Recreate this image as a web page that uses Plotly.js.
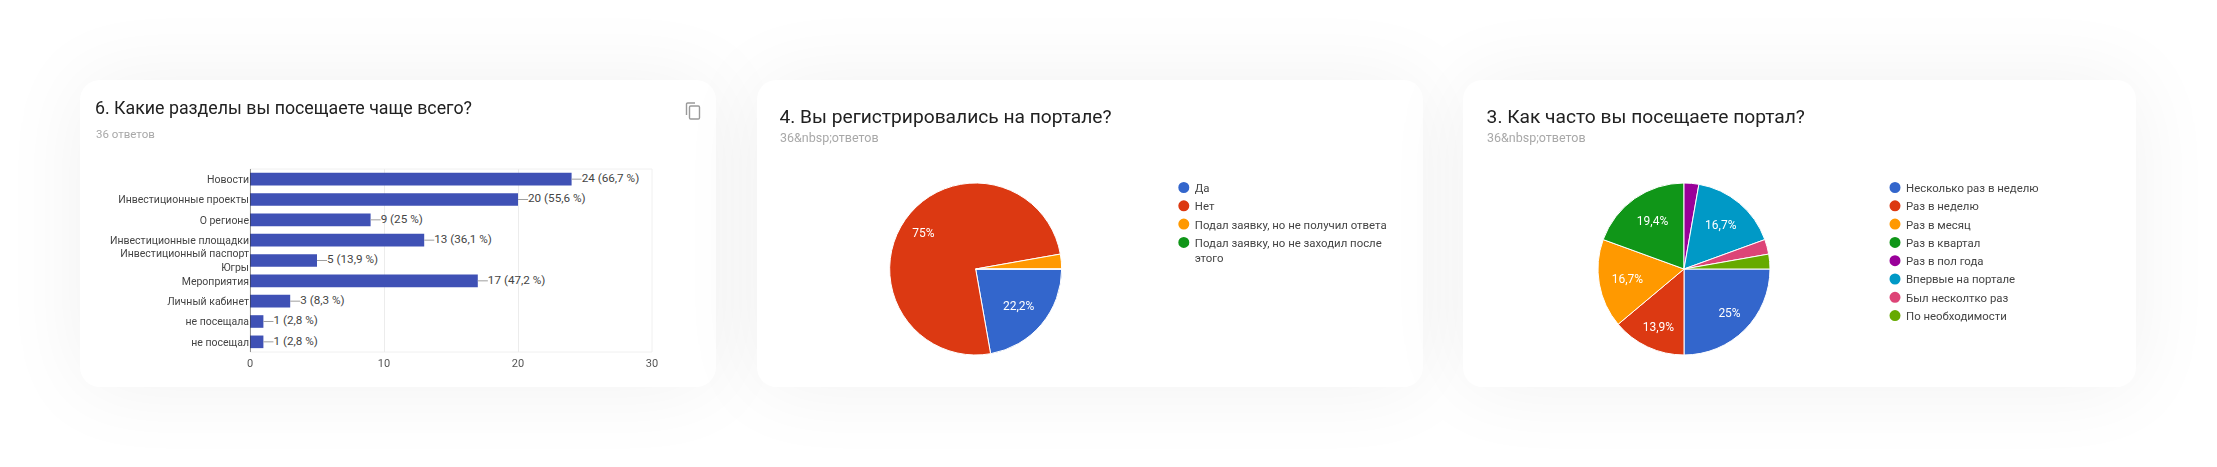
<!DOCTYPE html>
<html><head><meta charset="utf-8">
<script src="https://cdn.plot.ly/plotly-3.0.1.min.js"></script>
<style>
html,body{margin:0;padding:0;background:#fff;width:2217px;height:467px;overflow:hidden}
.card{position:absolute;background:#fff;border-radius:20px;box-shadow:0 0 85px rgba(0,0,0,.06);}
.card>div{position:absolute;left:0;top:0;filter:blur(.5px)}
#icon{position:absolute;left:605px;top:22px;filter:blur(.5px)}
</style></head><body>
<div class="card" style="left:80px;top:80px;width:636px;height:307px"><div id="c1"></div>
<svg id="icon" width="16" height="18" viewBox="0 0 16 18" fill="none" stroke="#9a9a9a" stroke-width="1.4"><path d="M1.5 13V2.2C1.5 1.5 2 1 2.7 1H10"/><rect x="4.5" y="4" width="10" height="13" rx="1.2"/></svg>
</div>
<div class="card" style="left:756.5px;top:80px;width:666.5px;height:307px"><div id="c2"></div></div>
<div class="card" style="left:1463px;top:80px;width:673px;height:307px"><div id="c3"></div></div>
<script>
const barTitle = "6. Какие разделы вы посещаете чаще всего?";
const barSubtitle = "36 ответов";
const barCategories = ["Новости","Инвестиционные проекты","О регионе","Инвестиционные площадки","Инвестиционный паспорт<br>Югры","Мероприятия","Личный кабинет","не посещала","не посещал"];
const barValues = [24,20,9,13,5,17,3,1,1];
const barLabels = ["24 (66,7 %)","20 (55,6 %)","9 (25 %)","13 (36,1 %)","5 (13,9 %)","17 (47,2 %)","3 (8,3 %)","1 (2,8 %)","1 (2,8 %)"];
const leaderLength = 0.75;

const pieColors = ["#3366cc","#dc3912","#ff9900","#109618","#990099","#0099c6","#dd4477","#66aa00"];

const regTitle = "4. Вы регистрировались на портале?";
const regSubtitle = "36&amp;nbsp;ответов";
const regLabels = ["Да","Нет","Подал заявку, но не получил ответа","Подал заявку, но не заходил после<br>этого"];
const regValues = [8,27,1,0];
const regText = ["22,2%","75%","",""];
const regNudge = {"75%":[-17,-11],"22,2%":[3,3]};

const freqTitle = "3. Как часто вы посещаете портал?";
const freqSubtitle = "36&amp;nbsp;ответов";
const freqLabels = ["Несколько раз в неделю","Раз в неделю","Раз в месяц","Раз в квартал","Раз в пол года","Впервые на портале","Был несколтко раз","По необходимости"];
const freqValues = [9,5,6,7,1,6,1,1];
const freqText = ["25%","13,9%","16,7%","19,4%","","16,7%","",""];
const freqNudge = {"25%":[10,8],"13,9%":[0,3],"19,4%":[0,-3]};

const FONT = "Roboto, Arial, sans-serif";
const config = {staticPlot:true, displayModeBar:false};

function header(W,H,title,size,sub,subSize,x,ty,sy){
  return {
    title:{text:title,x:x/W,xref:'container',xanchor:'left',y:1-ty/H,yref:'container',yanchor:'middle',
           font:{family:FONT,size:size,color:'#212121'},pad:{t:0,b:0,l:0,r:0}},
    annotations:[{text:sub,xref:'paper',yref:'paper',x:x/W,y:1-sy/H,xanchor:'left',yanchor:'middle',showarrow:false,
           font:{family:FONT,size:subSize,color:'#a8a8a8'}}]
  };
}

/* bar chart */
(function(){
  const W=636,H=307;
  const h=header(W,H,barTitle,17.8,barSubtitle,11.5,15,28,54);
  const L=170,R=572,T=89,B=272;
  h.annotations[0].x=(14-L)/(R-L);
  h.annotations[0].y=(B-54)/(B-T);
  Plotly.newPlot('c1',[
    {type:'bar',orientation:'h',y:barCategories,x:barValues,width:0.62,
     marker:{color:'#3f51b5',line:{width:0}},
     error_x:{type:'constant',value:leaderLength,valueminus:0,symmetric:false,thickness:1,width:0,color:'#9e9e9e'},
     hoverinfo:'none',cliponaxis:false},
    {type:'scatter',mode:'text',y:barCategories,x:barValues.map(v=>v+leaderLength),text:barLabels,
     textposition:'middle right',textfont:{family:FONT,size:11.7,color:'#444'},cliponaxis:false,hoverinfo:'none'}
  ],Object.assign(h,{
    width:W,height:H,showlegend:false,paper_bgcolor:'rgba(0,0,0,0)',plot_bgcolor:'#fff',
    margin:{l:L,r:W-R,t:T,b:H-B,pad:0},
    xaxis:{range:[0,30],tickvals:[0,10,20,30],ticks:'',showgrid:true,gridcolor:'#ececec',gridwidth:1,zeroline:false,
           showline:false,tickfont:{family:FONT,size:11,color:'#555'},ticklabelstandoff:3,mirror:false},
    yaxis:{type:'category',autorange:'reversed',ticks:'',showgrid:false,zeroline:false,showline:false,
           tickfont:{family:FONT,size:10.5,color:'#444'},ticklabelstandoff:0},
    shapes:[
      {type:'rect',xref:'paper',yref:'paper',x0:0,x1:1,y0:0,y1:1,line:{color:'#f0f0f0',width:1},layer:'below'},
      {type:'line',xref:'x',yref:'paper',x0:0,x1:0,y0:0,y1:1,line:{color:'#333',width:1}}
    ]
  }),config);
})();

/* pies */
const ROW = 18.3, HALF_LINE = 7.4;
function pie(id,W,H,cx,cy,r,title,sub,tx,labels,values,text,legendX,nudge){
  const h=header(W,H,title,19.2,sub,12.5,tx,36,58);
  h.annotations[0].x=(tx-2)/W;
  Plotly.newPlot(id,[{type:'pie',labels,values,text,textinfo:'text',sort:false,direction:'clockwise',rotation:90,
    marker:{colors:pieColors.slice(0,labels.length),line:{color:'#fff',width:1}},
    textposition:'inside',insidetextorientation:'horizontal',textfont:{family:FONT,size:12,color:'#fff'},
    domain:{x:[(cx-r)/W,(cx+r)/W],y:[1-(cy+r)/H,1-(cy-r)/H]},hoverinfo:'none'}],
   Object.assign(h,{width:W,height:H,paper_bgcolor:'rgba(0,0,0,0)',margin:{l:0,r:0,t:0,b:0},
    showlegend:true,
    legend:{x:legendX/W,xanchor:'left',y:1-93/H,yanchor:'top',font:{family:FONT,size:11.4,color:'#444'},bgcolor:'rgba(0,0,0,0)',itemclick:false,traceorder:'normal'}
   }),config).then(gd=>{
     let y0=null;
     gd.querySelectorAll('.legend .traces').forEach((g,i)=>{
       const m=/translate\(([-\d.]+),\s*([-\d.]+)\)/.exec(g.getAttribute('transform'));
       if(!m) return;
       if(y0===null) y0=+m[2];
       const lines=g.querySelectorAll('.legendtext tspan.line').length;
       const extra=lines>1?(lines-1)*HALF_LINE:0;
       g.setAttribute('transform','translate('+m[1]+','+(y0+i*ROW+extra)+')');
       const p=g.querySelector('.legendpie');
       if(p){
         p.setAttribute('d','M3.5,'+(-extra)+'a5.5,5.5 0 1 0 11,0a5.5,5.5 0 1 0 -11,0Z');
         p.style.strokeWidth='0';
       }
     });
     gd.querySelectorAll('g.slicetext > text').forEach(t=>{
       const d=nudge[t.textContent.trim()];
       if(d) t.setAttribute('transform','translate('+d[0]+','+d[1]+') '+(t.getAttribute('transform')||''));
     });
   });
}
pie('c2',666.5,307,218.5,189,86,regTitle,regSubtitle,22.5,regLabels,regValues,regText,397.5,regNudge);
pie('c3',673,307,221,189,86,freqTitle,freqSubtitle,23.6,freqLabels,freqValues,freqText,403,freqNudge);
</script>
</body></html>
